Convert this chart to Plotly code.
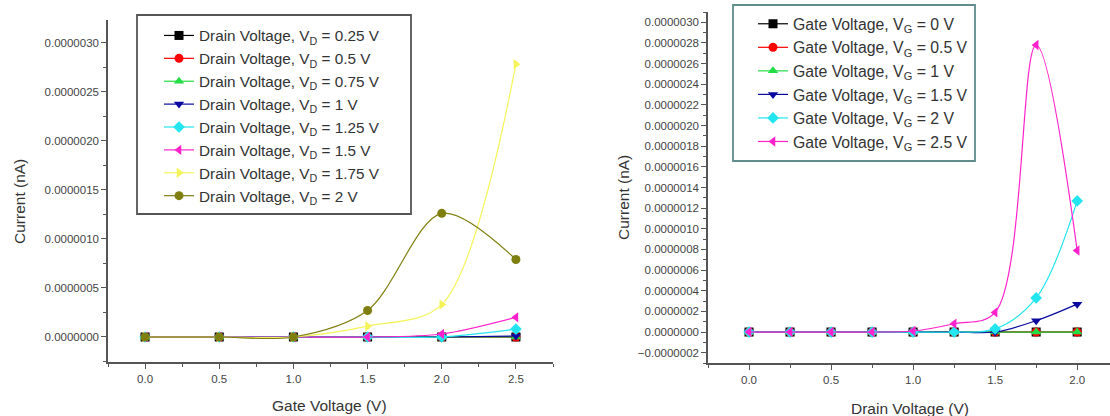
import plotly.graph_objects as go

W, H = 1110, 416

# ---------------- data ----------------
gate_v = [0.0, 0.5, 1.0, 1.5, 2.0, 2.5]
drain_labels = ["0.25", "0.5", "0.75", "1", "1.25", "1.5", "1.75", "2"]
left_series = [
    [0, 0, 0, 0, 0, 0.0],
    [0, 0, 0, 0, 0, 0.0],
    [0, 0, 0, 0, 0, 0.0],
    [0, 0, 0, 0, 0, 0.01e-6],
    [0, 0, 0, 0, 0, 0.08e-6],
    [0, 0, 0, 0, 0.03e-6, 0.20e-6],
    [0, 0, 0, 0.11e-6, 0.33e-6, 2.78e-6],
    [0, 0, 0, 0.27e-6, 1.26e-6, 0.79e-6],
]

drain_v = [0.0, 0.25, 0.5, 0.75, 1.0, 1.25, 1.5, 1.75, 2.0]
gate_labels = ["0", "0.5", "1", "1.5", "2", "2.5"]
right_series = [
    [0, 0, 0, 0, 0, 0, 0, 0, 0.0],
    [0, 0, 0, 0, 0, 0, 0, 0, 0.0],
    [0, 0, 0, 0, 0, 0, 0, 0, 0.0],
    [0, 0, 0, 0, 0, 0, 0, 0.11e-6, 0.27e-6],
    [0, 0, 0, 0, 0, 0, 0.03e-6, 0.33e-6, 1.27e-6],
    [0, 0, 0, 0, 0.01e-6, 0.08e-6, 0.19e-6, 2.78e-6, 0.79e-6],
]

colors = ["#000000", "#ff0000", "#22dd44", "#0a0aa0", "#22e5f0", "#ff22cc", "#f4f45a", "#7f7f10"]
symbols = ["square", "circle", "triangle-up", "triangle-down", "diamond",
           "triangle-left", "triangle-right", "circle"]

FONT = "Liberation Sans, Arial, sans-serif"

fig = go.Figure()

for i, (lab, ys) in enumerate(zip(drain_labels, left_series)):
    fig.add_trace(go.Scatter(
        x=gate_v, y=ys, mode="lines+markers",
        name=f"Drain Voltage, V<sub>D</sub> = {lab} V",
        line=dict(color=colors[i], width=1.2, shape="spline", smoothing=0.9),
        marker=dict(symbol=symbols[i], size=9, color=colors[i]),
        xaxis="x", yaxis="y", legend="legend",
    ))

for i, (lab, ys) in enumerate(zip(gate_labels, right_series)):
    fig.add_trace(go.Scatter(
        x=drain_v, y=ys, mode="lines+markers",
        name=f"Gate Voltage, V<sub>G</sub> = {lab} V",
        line=dict(color=colors[i], width=1.2, shape="spline", smoothing=1.0),
        marker=dict(symbol=symbols[i], size=9, color=colors[i]),
        xaxis="x2", yaxis="y2", legend="legend2",
    ))

axis_common = dict(
    showline=True, linecolor="#555555", linewidth=1.5, showgrid=False, zeroline=False,
    ticks="outside", ticklen=5, tickcolor="#555555", tickwidth=1.2,
    tickfont=dict(family=FONT, size=11.5, color="#444444"),
)

fig.update_layout(
    width=W, height=H, margin=dict(l=0, r=0, t=0, b=0),
    paper_bgcolor="white", plot_bgcolor="white",
    font=dict(family=FONT, color="#333333"),
    hovermode=False,
    xaxis=dict(domain=[108 / W, 553 / W], range=[-0.25, 2.75], anchor="y",
               tickvals=[0, 0.5, 1.0, 1.5, 2.0, 2.5], tickformat=".1f",
               minor=dict(dtick=0.25, tick0=0, ticks="outside", ticklen=3, tickcolor="#555555"),
               **axis_common),
    yaxis=dict(domain=[1 - 362 / H, 1 - 20 / H], range=[-0.255e-6, 3.23e-6], anchor="x",
               dtick=0.5e-6, tick0=0, tickformat=".7f",
               minor=dict(dtick=0.25e-6, tick0=0, ticks="outside", ticklen=3, tickcolor="#555555"),
               **axis_common),
    xaxis2=dict(domain=[708 / W, 1.0], range=[-0.25, 2.2], anchor="y2",
                tickvals=[0, 0.5, 1.0, 1.5, 2.0], tickformat=".1f",
                minor=dict(dtick=0.25, tick0=0, ticks="outside", ticklen=3, tickcolor="#555555"),
                **axis_common),
    yaxis2=dict(domain=[1 - 363 / H, 1 - 12 / H], range=[-0.3e-6, 3.1e-6], anchor="x2",
                dtick=0.2e-6, tick0=0, tickformat=".7f",
                minor=dict(dtick=0.1e-6, tick0=0, ticks="outside", ticklen=3, tickcolor="#555555"),
                **axis_common),
    legend=dict(x=137 / W, y=1 - 19 / H, xanchor="left", yanchor="top",
                bgcolor="rgba(0,0,0,0)", borderwidth=0,
                font=dict(family=FONT, size=15.3, color="#333333"),
                tracegroupgap=0, indentation=22),
    legend2=dict(x=733 / W, y=1 - 7 / H, xanchor="left", yanchor="top",
                 bgcolor="rgba(0,0,0,0)", borderwidth=0,
                 font=dict(family=FONT, size=15.8, color="#333333"),
                 tracegroupgap=0, indentation=20),
)

# legend frames
fig.add_shape(type="rect", xref="paper", yref="paper", layer="above",
              x0=137 / W, x1=411 / W, y0=1 - 214 / H, y1=1 - 15 / H,
              fillcolor="white", line=dict(color="#555555", width=1.8))
fig.add_shape(type="rect", xref="paper", yref="paper", layer="above",
              x0=733 / W, x1=975 / W, y0=1 - 161 / H, y1=1 - 5 / H,
              fillcolor="white", line=dict(color="#5f8c8c", width=1.8))

title_font = dict(family=FONT, size=15.5, color="#333333")
ann_common = dict(xref="paper", yref="paper", showarrow=False, font=title_font,
                  xanchor="center", yanchor="middle")
fig.add_annotation(text="Current (nA)", x=19 / W, y=1 - 202 / H, textangle=-90, **ann_common)
fig.add_annotation(text="Gate Voltage (V)", x=329 / W, y=1 - 405 / H, **ann_common)
fig.add_annotation(text="Current (nA)", x=623 / W, y=1 - 198 / H, textangle=-90, **ann_common)
fig.add_annotation(text="Drain Voltage (V)", x=910 / W, y=1 - 408 / H, **ann_common)

fig.write_html("out.html", config={"displayModeBar": False},
               post_script="document.body.style.margin='0';document.body.style.padding='0';")
